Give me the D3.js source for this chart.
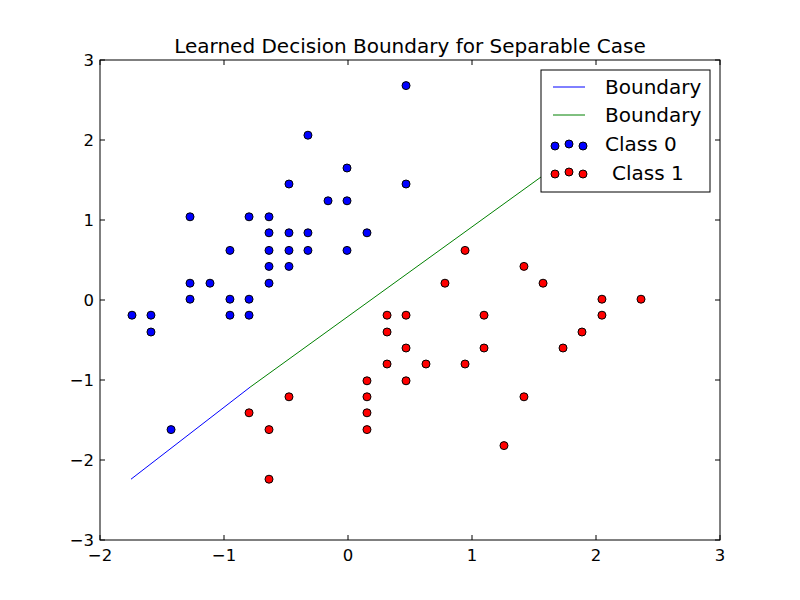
<!DOCTYPE html><html><head><meta charset="utf-8"><script src="https://cdn.jsdelivr.net/npm/d3@7"></script>
<style>body{margin:0;background:#fff}text{font-family:"DejaVu Sans",sans-serif}</style></head><body><svg id="c" width="800" height="600"></svg>
<script>
const class0X=[-1.742,-1.589,-1.589,-1.427,-1.274,-1.274,-1.274,-1.113,-0.952,-0.952,-0.952,-0.798,-0.798,-0.798,-0.637,-0.637,-0.637,-0.637,-0.637,-0.476,-0.476,-0.476,-0.476,-0.323,-0.323,-0.323,-0.161,-0.008,-0.008,-0.008,0.153,0.468,0.468];
const class0Y=[-0.19,-0.19,-0.40,-1.62,1.04,0.21,0.01,0.21,0.62,0.01,-0.19,1.04,0.01,-0.19,1.04,0.84,0.62,0.42,0.21,1.45,0.84,0.62,0.42,2.06,0.84,0.62,1.24,1.65,1.24,0.62,0.84,2.68,1.45];
const class1X=[-0.798,-0.637,-0.637,-0.476,0.153,0.153,0.153,0.153,0.315,0.315,0.315,0.468,0.468,0.468,0.629,0.782,0.944,0.944,1.097,1.097,1.258,1.419,1.419,1.573,1.734,1.887,2.048,2.048,2.363];
const class1Y=[-1.41,-1.62,-2.24,-1.21,-1.01,-1.21,-1.41,-1.62,-0.19,-0.40,-0.80,-0.19,-0.60,-1.01,-0.80,0.21,0.62,-0.80,-0.19,-0.60,-1.82,0.42,-1.21,0.21,-0.60,-0.40,0.01,-0.19,0.01];
const boundary1X=[-1.75,-0.79], boundary1Y=[-2.24,-1.09];
const boundary2X=[-0.79,2.05], boundary2Y=[-1.09,2.09];
const xTicks=[-2,-1,0,1,2,3], yTicks=[-3,-2,-1,0,1,2,3];
const svg=d3.select("#c");
const L=100,R=720,T=60,B=540;
const x=d3.scaleLinear().domain([-2,3]).range([L,R]);
const y=d3.scaleLinear().domain([-3,3]).range([B,T]);
svg.append("clipPath").attr("id","cl").append("rect").attr("x",L).attr("y",T).attr("width",R-L).attr("height",B-T);
const g=svg.append("g").attr("clip-path","url(#cl)");
const line=d3.line().x(d=>x(d[0])).y(d=>y(d[1]));
g.append("path").attr("d",line(d3.zip(boundary1X,boundary1Y))).attr("stroke","#0000ff").attr("fill","none");
g.append("path").attr("d",line(d3.zip(boundary2X,boundary2Y))).attr("stroke","#008000").attr("fill","none");
g.selectAll(".c0").data(d3.zip(class0X,class0Y)).join("circle").attr("cx",d=>x(d[0])).attr("cy",d=>y(d[1])).attr("r",4).attr("fill","#0000ff").attr("stroke","#000");
g.selectAll(".c1").data(d3.zip(class1X,class1Y)).join("circle").attr("cx",d=>x(d[0])).attr("cy",d=>y(d[1])).attr("r",4).attr("fill","#ff0000").attr("stroke","#000");
const ax=svg.append("g");
function ticks(sc,vals,orient){vals.forEach(v=>{const p=sc(v);
 if(orient==="x"){ax.append("line").attr("x1",p).attr("x2",p).attr("y1",B).attr("y2",B-5).attr("stroke","#000");
  ax.append("line").attr("x1",p).attr("x2",p).attr("y1",T).attr("y2",T+5).attr("stroke","#000");
  ax.append("text").attr("x",p).attr("y",B+21).attr("text-anchor","middle").attr("font-size",16.5).text(v<0?"\u2212"+(-v):v);}
 else{ax.append("line").attr("x1",L).attr("x2",L+5).attr("y1",p).attr("y2",p).attr("stroke","#000");
  ax.append("line").attr("x1",R).attr("x2",R-5).attr("y1",p).attr("y2",p).attr("stroke","#000");
  ax.append("text").attr("x",L-6).attr("y",p+6).attr("text-anchor","end").attr("font-size",16.5).text(v<0?"\u2212"+(-v):v);}});}
ticks(x,xTicks,"x");ticks(y,yTicks,"y");
ax.append("rect").attr("x",L).attr("y",T).attr("width",R-L).attr("height",B-T).attr("fill","none").attr("stroke","#000");
svg.append("text").attr("x",410).attr("y",53).attr("text-anchor","middle").attr("font-size",20).text("Learned Decision Boundary for Separable Case");
const lg=svg.append("g");
lg.append("rect").attr("x",541).attr("y",70).attr("width",169).attr("height",122).attr("fill","#fff").attr("stroke","#000");
lg.append("line").attr("x1",553).attr("x2",585).attr("y1",87).attr("y2",87).attr("stroke","#0000ff");
lg.append("line").attr("x1",553).attr("x2",585).attr("y1",115).attr("y2",115).attr("stroke","#008000");
[[555,146],[569,144],[583,146]].forEach(p=>lg.append("circle").attr("cx",p[0]).attr("cy",p[1]).attr("r",4).attr("fill","#0000ff").attr("stroke","#000"));
[[555,174],[569,172],[583,174]].forEach(p=>lg.append("circle").attr("cx",p[0]).attr("cy",p[1]).attr("r",4).attr("fill","#ff0000").attr("stroke","#000"));
[["Boundary",605,94],["Boundary",605,122],["Class 0",605,151],["Class 1",612,180]].forEach(t=>lg.append("text").attr("x",t[1]).attr("y",t[2]).attr("font-size",20).text(t[0]));
</script></body></html>
